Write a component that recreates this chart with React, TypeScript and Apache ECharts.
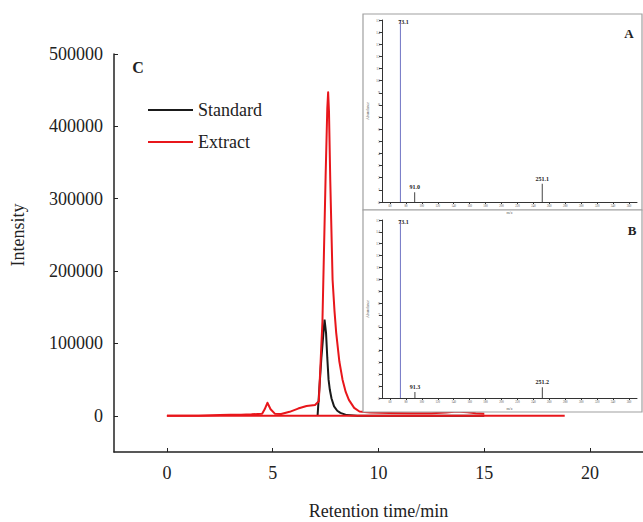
import React, { useEffect, useRef } from "react";
import * as echarts from "echarts";

// Main chromatogram (C)
const stdTime = [7.12, 7.3, 7.45, 7.52, 7.58, 7.64, 7.7, 7.78, 7.9, 8.05, 8.2, 8.5, 9.0, 15.0];
const stdIntensity = [0, 80000, 133000, 115000, 80000, 50000, 36000, 24000, 13000, 7000, 4000, 1000, 0, 0];

const extTime = [0, 1.5, 2.5, 3.0, 3.5, 4.0, 4.5, 4.62, 4.75, 4.9, 5.1, 5.4, 5.8, 6.2, 6.6, 7.0, 7.18, 7.35, 7.5, 7.58, 7.62, 7.66, 7.72, 7.83, 7.92, 8.0, 8.15, 8.3, 8.45, 8.6, 8.85, 9.1, 9.6, 10.5, 11.5, 12.5, 13.2, 13.7, 14.2, 14.6, 15.0];
const extIntensity = [0, 0, 1000, 1500, 1500, 2000, 3000, 9000, 18000, 9000, 3000, 2500, 5500, 10000, 13500, 15000, 20000, 130000, 330000, 425000, 447000, 420000, 326000, 188000, 145000, 115000, 75000, 50000, 33000, 22000, 11000, 6000, 4500, 4000, 3500, 3500, 4500, 6000, 5000, 3500, 3000];

const baseTime = [0, 18.8];
const baseIntensity = [0, 0];

const xTicks = [0, 5, 10, 15, 20];
const yTicks = [0, 100000, 200000, 300000, 400000, 500000];

// Inset mass spectra (A, B)
const specAmz = [73.1, 91.0, 251.1];
const specAint = [15, 0.8, 1.5];
const specBmz = [73.1, 91.3, 251.2];
const specBint = [15, 0.5, 0.9];
const insetXTicks = [60, 80, 100, 120, 140, 160, 180, 200, 220, 240, 260, 280, 300, 320, 340, 360];

const SERIF = "'Liberation Serif', 'Times New Roman', serif";

function pairs(xs: number[], ys: number[]) {
  return xs.map((x, i) => [x, ys[i]]);
}

function specData(mz: number[], it: number[]) {
  return mz.map((m, i) => ({
    value: [m, it[i]],
    itemStyle: { color: i === 0 ? "#6f73c4" : "#444" },
    label: i === 0
      ? { show: true, position: "insideTop", distance: 0, offset: [3, -1] }
      : { show: true, position: "top", distance: 2 },
  }));
}

function insetAxes(grid: number) {
  const x = {
    type: "value",
    gridIndex: grid,
    min: 50,
    max: 370,
    z: 12,
    name: "m/z",
    nameLocation: "middle",
    nameGap: 8,
    nameTextStyle: { fontSize: 4, color: "#555", fontFamily: SERIF },
    axisLine: { onZero: false, lineStyle: { color: "#333", width: 1 } },
    axisTick: { show: true, length: 2, customValues: insetXTicks, lineStyle: { color: "#333" } },
    axisLabel: { show: true, fontSize: 3, color: "#555", margin: 2, customValues: insetXTicks },
    splitLine: { show: false },
  };
  const y = {
    type: "value",
    gridIndex: grid,
    min: 0,
    max: 15,
    interval: 1,
    z: 12,
    name: "Abundance",
    nameLocation: "middle",
    nameGap: 13,
    nameTextStyle: { fontSize: 4, color: "#555", fontFamily: SERIF },
    axisLine: { show: true, onZero: false, lineStyle: { color: "#333", width: 1 } },
    axisTick: { show: true, length: 3, lineStyle: { color: "#333" } },
    axisLabel: { show: true, fontSize: 4, color: "#666", margin: 2 },
    splitLine: { show: false },
  };
  return { x, y };
}

export default function App() {
  const ref = useRef<HTMLDivElement>(null);
  useEffect(() => {
    if (!ref.current) return;
    const chart = echarts.init(ref.current, null, { renderer: "svg" });
    const a = insetAxes(1);
    const b = insetAxes(2);
    const option: any = {
      animation: false,
      backgroundColor: "#fff",
      textStyle: { fontFamily: SERIF },
      grid: [
        { left: 114, right: 0, top: 54, bottom: 70, outerBoundsMode: "none", containLabel: false },
        { left: 382, width: 255, top: 20, height: 182, z: 12, outerBoundsMode: "none", containLabel: false },
        { left: 382, width: 255, top: 220, height: 178, z: 12, outerBoundsMode: "none", containLabel: false },
      ],
      legend: {
        orient: "vertical",
        left: 147,
        top: 101,
        padding: 0,
        itemWidth: 45,
        itemHeight: 14,
        itemGap: 14,
        itemStyle: { opacity: 0 },
        data: ["Standard", "Extract"],
        textStyle: { fontFamily: SERIF, fontSize: 18, color: "#222" },
      },
      xAxis: [
        {
          type: "value",
          gridIndex: 0,
          min: -2.5,
          max: 22.5,
          name: "Retention time/min",
          nameLocation: "middle",
          nameGap: 50,
          nameTextStyle: { fontFamily: SERIF, fontSize: 18, color: "#222" },
          axisLine: { onZero: false, lineStyle: { color: "#222", width: 1.5 } },
          axisTick: { inside: true, length: 4, customValues: xTicks, lineStyle: { color: "#222" } },
          axisLabel: { fontFamily: SERIF, fontSize: 18, color: "#222", margin: 12, customValues: xTicks },
          splitLine: { show: false },
        },
        a.x,
        b.x,
      ],
      yAxis: [
        {
          type: "value",
          gridIndex: 0,
          min: -50000,
          max: 500000,
          axisLine: { show: true, onZero: false, lineStyle: { color: "#222", width: 1.5 } },
          axisTick: { show: true, inside: true, length: 4, customValues: yTicks, lineStyle: { color: "#222" } },
          axisLabel: {
            fontFamily: SERIF,
            fontSize: 18,
            color: "#222",
            margin: 11,
            customValues: yTicks,
            formatter: (v: number) => String(v),
          },
          splitLine: { show: false },
        },
        a.y,
        b.y,
      ],
      graphic: [
        {
          type: "text",
          x: 18,
          y: 235,
          rotation: Math.PI / 2,
          style: { text: "Intensity", fontFamily: SERIF, fontSize: 18, fill: "#222", textAlign: "center", textVerticalAlign: "middle" },
        },
        {
          type: "text",
          x: 138,
          y: 67,
          style: { text: "C", fontFamily: SERIF, fontSize: 16, fontWeight: "bold", fill: "#222", textAlign: "center", textVerticalAlign: "middle" },
        },
        {
          type: "rect",
          z: 10,
          shape: { x: 363, y: 14, width: 279, height: 196 },
          style: { fill: "#fff", stroke: "#a0a0a0", lineWidth: 1.2 },
        },
        {
          type: "rect",
          z: 10,
          shape: { x: 363, y: 210, width: 279, height: 202 },
          style: { fill: "#fff", stroke: "#a0a0a0", lineWidth: 1.2 },
        },
        {
          type: "text",
          z: 15,
          x: 629,
          y: 33,
          style: { text: "A", fontFamily: SERIF, fontSize: 13, fontWeight: "bold", fill: "#222", textAlign: "center", textVerticalAlign: "middle" },
        },
        {
          type: "text",
          z: 15,
          x: 632,
          y: 230,
          style: { text: "B", fontFamily: SERIF, fontSize: 13, fontWeight: "bold", fill: "#222", textAlign: "center", textVerticalAlign: "middle" },
        },
      ],
      series: [
        {
          name: "Standard",
          type: "line",
          xAxisIndex: 0,
          yAxisIndex: 0,
          data: pairs(stdTime, stdIntensity),
          showSymbol: false,
          symbol: "none",
          lineStyle: { color: "#1a1a1a", width: 2 },
          itemStyle: { color: "#1a1a1a" },
          z: 2,
        },
        {
          name: "Extract",
          type: "line",
          xAxisIndex: 0,
          yAxisIndex: 0,
          data: pairs(baseTime, baseIntensity),
          showSymbol: false,
          symbol: "none",
          lineStyle: { color: "#e8161b", width: 2 },
          itemStyle: { color: "#e8161b" },
          z: 3,
        },
        {
          name: "Extract",
          type: "line",
          xAxisIndex: 0,
          yAxisIndex: 0,
          data: pairs(extTime, extIntensity),
          showSymbol: false,
          symbol: "none",
          lineStyle: { color: "#e8161b", width: 2, join: "round" },
          itemStyle: { color: "#e8161b" },
          z: 3,
        },
        {
          type: "bar",
          xAxisIndex: 1,
          yAxisIndex: 1,
          barWidth: 1,
          z: 13,
          data: specData(specAmz, specAint),
          label: {
            formatter: (p: any) => p.value[0].toFixed(1),
            fontFamily: SERIF,
            fontSize: 6,
            fontWeight: "bold",
            color: "#222",
          },
        },
        {
          type: "bar",
          xAxisIndex: 2,
          yAxisIndex: 2,
          barWidth: 1,
          z: 13,
          data: specData(specBmz, specBint),
          label: {
            formatter: (p: any) => p.value[0].toFixed(1),
            fontFamily: SERIF,
            fontSize: 6,
            fontWeight: "bold",
            color: "#222",
          },
        },
      ],
    };
    chart.setOption(option);
    return () => chart.dispose();
  }, []);
  return <div ref={ref} style={{ position: "absolute", left: 0, top: 0, width: 643, height: 522 }} />;
}
